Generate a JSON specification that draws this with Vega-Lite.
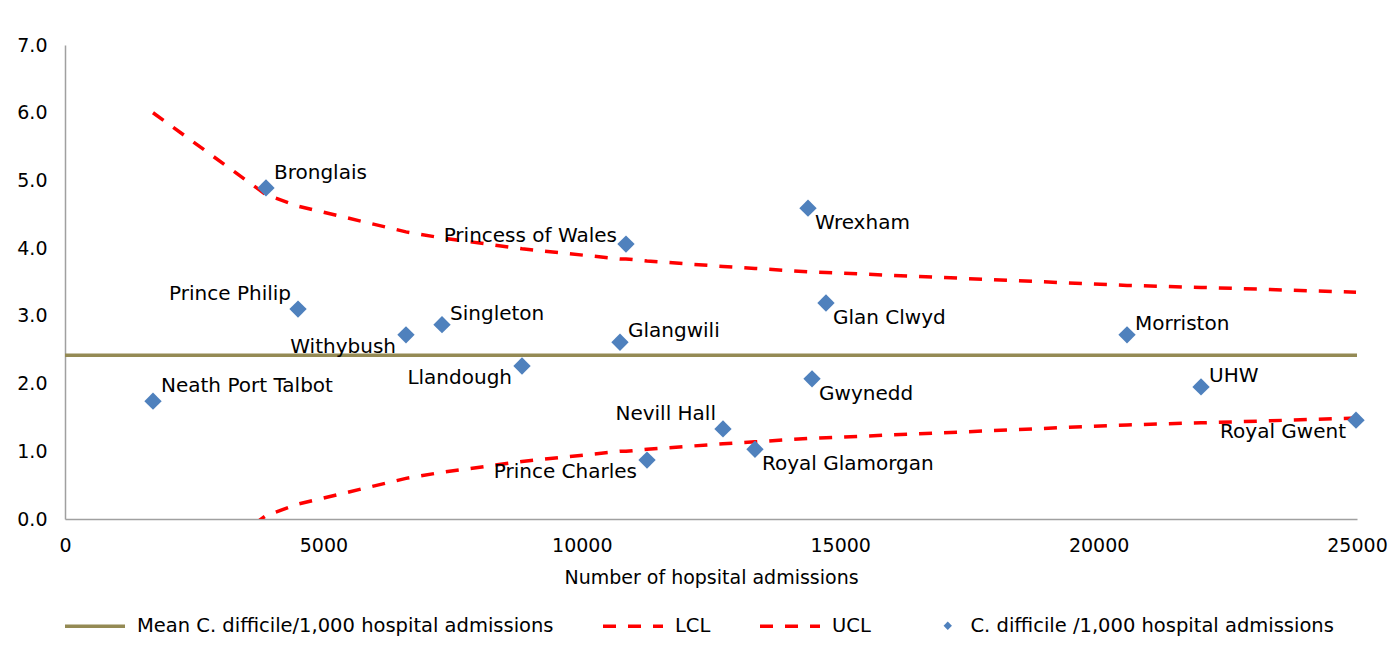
{
  "$schema": "https://vega.github.io/schema/vega-lite/v6.json",
  "width": 1292,
  "height": 474,
  "autosize": {"type": "none"},
  "padding": {"left": 65, "top": 45, "right": 40, "bottom": 133},
  "background": "white",
  "config": {
    "view": {"stroke": null},
    "font": "DejaVu Sans",
    "axis": {"labelFont": "DejaVu Sans", "titleFont": "DejaVu Sans", "labelColor": "#000", "titleColor": "#000", "labelFontSize": 19, "titleFontSize": 19, "titleFontWeight": "normal", "ticks": false, "grid": false, "domainColor": "#A0A0A0", "domainWidth": 1.5},
    "legend": {"labelFont": "DejaVu Sans", "labelColor": "#000", "labelFontSize": 19.5, "labelLimit": 700},
    "text": {"fontSize": 20, "color": "#000", "baseline": "middle"}
  },
  "datasets": {
    "hospitals": [
      {"hospital": "Neath Port Talbot", "admissions": 1703, "rate": 1.74},
      {"hospital": "Bronglais", "admissions": 3889, "rate": 4.89},
      {"hospital": "Prince Philip", "admissions": 4509, "rate": 3.10},
      {"hospital": "Withybush", "admissions": 6598, "rate": 2.72},
      {"hospital": "Singleton", "admissions": 7295, "rate": 2.87},
      {"hospital": "Llandough", "admissions": 8843, "rate": 2.26},
      {"hospital": "Glangwili", "admissions": 10739, "rate": 2.61},
      {"hospital": "Princess of Wales", "admissions": 10855, "rate": 4.06},
      {"hospital": "Prince Charles", "admissions": 11262, "rate": 0.87},
      {"hospital": "Nevill Hall", "admissions": 12732, "rate": 1.33},
      {"hospital": "Royal Glamorgan", "admissions": 13351, "rate": 1.03},
      {"hospital": "Wrexham", "admissions": 14377, "rate": 4.59},
      {"hospital": "Gwynedd", "admissions": 14455, "rate": 2.07},
      {"hospital": "Glan Clwyd", "admissions": 14725, "rate": 3.19},
      {"hospital": "Morriston", "admissions": 20550, "rate": 2.72},
      {"hospital": "UHW", "admissions": 21982, "rate": 1.95},
      {"hospital": "Royal Gwent", "admissions": 24981, "rate": 1.46}
    ],
    "limits": [
      {"series": "Mean C. difficile/1,000 hospital admissions", "admissions": 0, "rate": 2.42},
      {"series": "Mean C. difficile/1,000 hospital admissions", "admissions": 25000, "rate": 2.42},
      {"series": "LCL", "admissions": 1703, "rate": -1.16},
      {"series": "LCL", "admissions": 3889, "rate": 0.05},
      {"series": "LCL", "admissions": 4509, "rate": 0.22},
      {"series": "LCL", "admissions": 6598, "rate": 0.60},
      {"series": "LCL", "admissions": 7295, "rate": 0.69},
      {"series": "LCL", "admissions": 8843, "rate": 0.85},
      {"series": "LCL", "admissions": 10739, "rate": 1.00},
      {"series": "LCL", "admissions": 10855, "rate": 1.00},
      {"series": "LCL", "admissions": 11262, "rate": 1.03},
      {"series": "LCL", "admissions": 12732, "rate": 1.11},
      {"series": "LCL", "admissions": 13351, "rate": 1.14},
      {"series": "LCL", "admissions": 14377, "rate": 1.19},
      {"series": "LCL", "admissions": 14455, "rate": 1.19},
      {"series": "LCL", "admissions": 14725, "rate": 1.20},
      {"series": "LCL", "admissions": 20550, "rate": 1.39},
      {"series": "LCL", "admissions": 21982, "rate": 1.42},
      {"series": "LCL", "admissions": 24981, "rate": 1.49},
      {"series": "UCL", "admissions": 1703, "rate": 6.00},
      {"series": "UCL", "admissions": 3889, "rate": 4.79},
      {"series": "UCL", "admissions": 4509, "rate": 4.62},
      {"series": "UCL", "admissions": 6598, "rate": 4.24},
      {"series": "UCL", "admissions": 7295, "rate": 4.15},
      {"series": "UCL", "admissions": 8843, "rate": 3.99},
      {"series": "UCL", "admissions": 10739, "rate": 3.84},
      {"series": "UCL", "admissions": 10855, "rate": 3.84},
      {"series": "UCL", "admissions": 11262, "rate": 3.81},
      {"series": "UCL", "admissions": 12732, "rate": 3.73},
      {"series": "UCL", "admissions": 13351, "rate": 3.70},
      {"series": "UCL", "admissions": 14377, "rate": 3.65},
      {"series": "UCL", "admissions": 14455, "rate": 3.65},
      {"series": "UCL", "admissions": 14725, "rate": 3.64},
      {"series": "UCL", "admissions": 20550, "rate": 3.45},
      {"series": "UCL", "admissions": 21982, "rate": 3.42},
      {"series": "UCL", "admissions": 24981, "rate": 3.35}
    ]
  },
  "encoding": {
    "x": {"field": "admissions", "type": "quantitative", "scale": {"domain": [0, 25000], "nice": false},
      "axis": {"values": [0, 5000, 10000, 15000, 20000, 25000], "format": "d", "title": "Number of hopsital admissions", "labelPadding": 17, "titlePadding": 13, "labelFlush": false, "labelOverlap": false}},
    "y": {"field": "rate", "type": "quantitative", "scale": {"domain": [0, 7], "nice": false},
      "axis": {"values": [0, 1, 2, 3, 4, 5, 6, 7], "format": ".1f", "title": null, "labelPadding": 18, "labelOverlap": false}}
  },
  "layer": [
    {
      "data": {"name": "limits"},
      "mark": {"type": "line", "strokeWidth": 3.5, "clip": true},
      "encoding": {
        "color": {"field": "series", "type": "nominal",
          "scale": {"domain": ["Mean C. difficile/1,000 hospital admissions", "LCL", "UCL"], "range": ["#948A54", "#FF0000", "#FF0000"]},
          "legend": {"title": null, "orient": "none", "legendX": -2, "legendY": 549, "direction": "horizontal", "symbolType": "stroke", "symbolSize": 3600, "symbolStrokeWidth": 3.5, "labelOffset": 10, "columnPadding": 42, "padding": 0,
            "encode": {"symbols": {"update": {"strokeDash": [{"test": "datum.value === 'LCL' || datum.value === 'UCL'", "value": [13, 12]}, {"value": [1, 0]}]}}}}},
        "strokeDash": {"field": "series", "type": "nominal",
          "scale": {"domain": ["Mean C. difficile/1,000 hospital admissions", "LCL", "UCL"], "range": [[1, 0], [13, 12], [13, 12]]},
          "legend": null}
      }
    },
    {
      "data": {"name": "hospitals"},
      "mark": {"type": "point", "shape": "diamond", "filled": true, "size": 300, "opacity": 1},
      "encoding": {
        "color": {"datum": "C. difficile /1,000 hospital admissions", "type": "nominal",
          "scale": {"range": ["#4F81BD"]},
          "legend": {"title": null, "orient": "none", "legendX": 873, "legendY": 571, "symbolType": "diamond", "symbolSize": 70, "labelOffset": 13, "padding": 0}}
      }
    },
    {
      "data": {"name": "hospitals"},
      "transform": [{"filter": {"field": "hospital", "oneOf": ["Bronglais", "Neath Port Talbot"]}}],
      "mark": {"type": "text", "align": "left", "dx": 8, "dy": -15},
      "encoding": {"text": {"field": "hospital"}}
    },
    {
      "data": {"name": "hospitals"},
      "transform": [{"filter": {"field": "hospital", "oneOf": ["Singleton", "Glangwili", "Morriston", "UHW"]}}],
      "mark": {"type": "text", "align": "left", "dx": 8, "dy": -11},
      "encoding": {"text": {"field": "hospital"}}
    },
    {
      "data": {"name": "hospitals"},
      "transform": [{"filter": {"field": "hospital", "oneOf": ["Wrexham", "Glan Clwyd", "Gwynedd", "Royal Glamorgan"]}}],
      "mark": {"type": "text", "align": "left", "dx": 7, "dy": 15},
      "encoding": {"text": {"field": "hospital"}}
    },
    {
      "data": {"name": "hospitals"},
      "transform": [{"filter": {"field": "hospital", "oneOf": ["Prince Philip", "Nevill Hall"]}}],
      "mark": {"type": "text", "align": "right", "dx": -7, "dy": -15},
      "encoding": {"text": {"field": "hospital"}}
    },
    {
      "data": {"name": "hospitals"},
      "transform": [{"filter": {"field": "hospital", "oneOf": ["Princess of Wales"]}}],
      "mark": {"type": "text", "align": "right", "dx": -9, "dy": -8},
      "encoding": {"text": {"field": "hospital"}}
    },
    {
      "data": {"name": "hospitals"},
      "transform": [{"filter": {"field": "hospital", "oneOf": ["Withybush", "Llandough", "Prince Charles", "Royal Gwent"]}}],
      "mark": {"type": "text", "align": "right", "dx": -10, "dy": 12},
      "encoding": {"text": {"field": "hospital"}}
    }
  ],
  "resolve": {"scale": {"color": "independent"}}
}
